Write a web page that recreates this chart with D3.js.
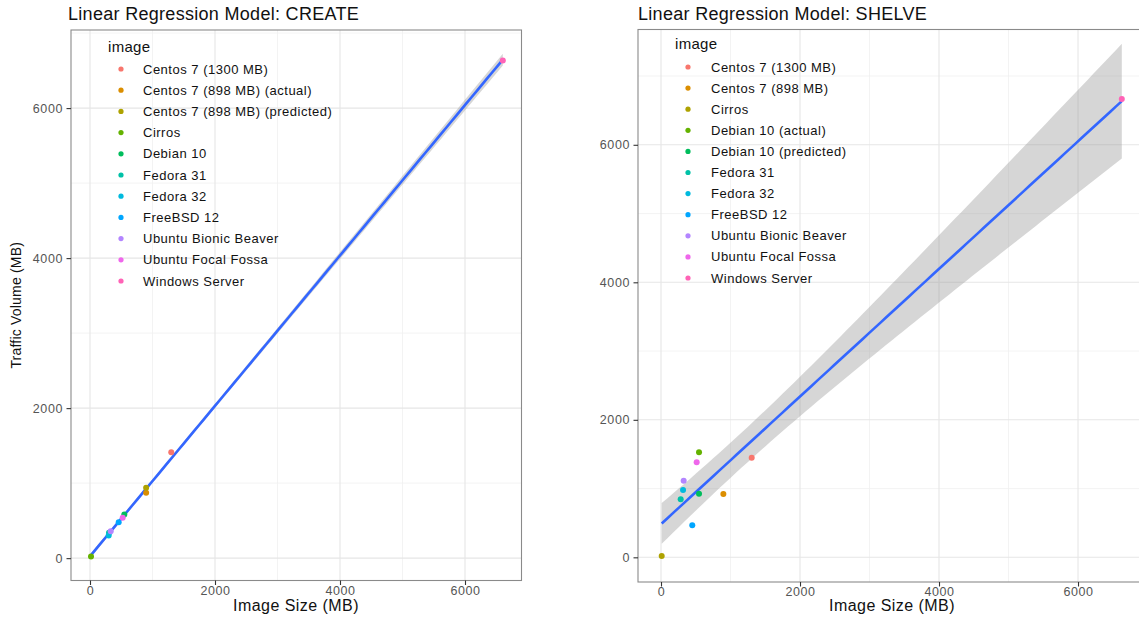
<!DOCTYPE html>
<html>
<head>
<meta charset="utf-8">
<script src="https://cdn.jsdelivr.net/npm/d3@7"></script>
<style>
  html, body { margin: 0; padding: 0; background: #fff; }
  svg { display: block; font-family: "Liberation Sans", Arial, sans-serif; }
</style>
</head>
<body>
<svg id="chart" width="1139" height="618"></svg>
<script>
// ---- data -------------------------------------------------------------
const createImages = [
  "Centos 7 (1300 MB)", "Centos 7 (898 MB) (actual)", "Centos 7 (898 MB) (predicted)",
  "Cirros", "Debian 10", "Fedora 31", "Fedora 32", "FreeBSD 12",
  "Ubuntu Bionic Beaver", "Ubuntu Focal Fossa", "Windows Server"
];
const createSize    = [1300, 898, 898, 16, 549, 304, 299, 459, 331, 523, 6605];
const createTraffic = [1413, 872, 939, 23, 583, 339, 303, 480, 360, 539, 6636];

const shelveImages = [
  "Centos 7 (1300 MB)", "Centos 7 (898 MB)", "Cirros", "Debian 10 (actual)",
  "Debian 10 (predicted)", "Fedora 31", "Fedora 32", "FreeBSD 12",
  "Ubuntu Bionic Beaver", "Ubuntu Focal Fossa", "Windows Server"
];
const shelveSize    = [1305, 897, 10, 547, 547, 283, 317, 450, 326, 513, 6630];
const shelveTraffic = [1449, 921, 19, 1527, 925, 843, 979, 465, 1114, 1381, 6666];

const majorTicks = [0, 2000, 4000, 6000];
const minorTicks = [1000, 3000, 5000, 7000];

// ggplot2 default hue palette for 11 levels
const hueColors = ["#F8766D", "#DB8E00", "#AEA200", "#64B200", "#00BD5C", "#00C1A7",
                   "#00BADE", "#00A6FF", "#B385FF", "#EF67EB", "#FF63B6"];

// Student t quantile (0.975, df = 9) for the 95% confidence band
const T975_DF9 = 2.262157;

// ---- layout -----------------------------------------------------------
const panels = [
  {
    title: "Linear Regression Model: CREATE", titleX: 68,
    names: createImages, xs: createSize, ys: createTraffic,
    frame: { left: 71, top: 30, right: 521.5, bottom: 580.5 },
    xDomain: [-304, 6904], yDomain: [-298, 7041],
    yTitle: "Traffic Volume (MB)", xTitleX: 296,
    legend: { x: 108, y: 52, dotX: 121, textX: 143, firstY: 69, step: 21.2 }
  },
  {
    title: "Linear Regression Model: SHELVE", titleX: 638,
    names: shelveImages, xs: shelveSize, ys: shelveTraffic,
    frame: { left: 638, top: 29.5, right: 1143, bottom: 582 },
    xDomain: [-331, 6935], yDomain: [-359, 7677],
    yTitle: null, xTitleX: 892,
    legend: { x: 675, y: 49, dotX: 688, textX: 711, firstY: 67, step: 21.1 }
  }
];

const svg = d3.select("#chart");

function fitLine(xs, ys) {
  const n = xs.length;
  const mx = d3.mean(xs), my = d3.mean(ys);
  let sxx = 0, sxy = 0;
  xs.forEach((x, i) => { sxx += (x - mx) ** 2; sxy += (x - mx) * (ys[i] - my); });
  const slope = sxy / sxx;
  const intercept = my - slope * mx;
  let sse = 0;
  xs.forEach((x, i) => { sse += (ys[i] - intercept - slope * x) ** 2; });
  const s = Math.sqrt(sse / (n - 2));
  return { slope, intercept, at: x => intercept + slope * x,
           half: x => T975_DF9 * s * Math.sqrt(1 / n + (x - mx) ** 2 / sxx) };
}

panels.forEach(p => {
  const f = p.frame;
  const x = d3.scaleLinear().domain(p.xDomain).range([f.left, f.right]);
  const y = d3.scaleLinear().domain(p.yDomain).range([f.bottom, f.top]);
  const g = svg.append("g");

  const clipId = "clip" + f.left;
  svg.append("clipPath").attr("id", clipId)
    .append("rect").attr("x", f.left).attr("y", f.top)
    .attr("width", f.right - f.left).attr("height", f.bottom - f.top);

  const plot = g.append("g").attr("clip-path", `url(#${clipId})`);

  // grid
  plot.selectAll(".vminor").data(minorTicks).join("line")
    .attr("x1", d => x(d)).attr("x2", d => x(d)).attr("y1", f.top).attr("y2", f.bottom)
    .attr("stroke", "#F0F0F0").attr("stroke-width", 0.8);
  plot.selectAll(".hminor").data(minorTicks).join("line")
    .attr("y1", d => y(d)).attr("y2", d => y(d)).attr("x1", f.left).attr("x2", f.right)
    .attr("stroke", "#F0F0F0").attr("stroke-width", 0.8);
  plot.selectAll(".vmajor").data(majorTicks).join("line")
    .attr("x1", d => x(d)).attr("x2", d => x(d)).attr("y1", f.top).attr("y2", f.bottom)
    .attr("stroke", "#E6E6E6").attr("stroke-width", 1.1);
  plot.selectAll(".hmajor").data(majorTicks).join("line")
    .attr("y1", d => y(d)).attr("y2", d => y(d)).attr("x1", f.left).attr("x2", f.right)
    .attr("stroke", "#E6E6E6").attr("stroke-width", 1.1);

  // regression line with 95% band
  const fit = fitLine(p.xs, p.ys);
  const [xmin, xmax] = d3.extent(p.xs);
  const grid = d3.range(0, 81).map(i => xmin + (xmax - xmin) * i / 80);
  plot.append("path")
    .attr("d", d3.area().x(d => x(d)).y0(d => y(fit.at(d) - fit.half(d))).y1(d => y(fit.at(d) + fit.half(d)))(grid))
    .attr("fill", "#999999").attr("fill-opacity", 0.4);
  plot.append("path")
    .attr("d", d3.line().x(d => x(d)).y(d => y(fit.at(d)))(grid))
    .attr("fill", "none").attr("stroke", "#3366FF").attr("stroke-width", 2.6);

  // points
  plot.selectAll(".pt").data(p.names).join("circle")
    .attr("cx", (d, i) => x(p.xs[i])).attr("cy", (d, i) => y(p.ys[i]))
    .attr("r", 3).attr("fill", (d, i) => hueColors[i]);

  // border
  g.append("rect").attr("x", f.left).attr("y", f.top)
    .attr("width", f.right - f.left).attr("height", f.bottom - f.top)
    .attr("fill", "none").attr("stroke", "#8A8A8A").attr("stroke-width", 1.1);

  // axes
  const xAxis = g.append("g").attr("transform", `translate(0,${f.bottom})`)
    .call(d3.axisBottom(x).tickValues(majorTicks).tickSize(4.5).tickFormat(d3.format("d")));
  const yAxis = g.append("g").attr("transform", `translate(${f.left},0)`)
    .call(d3.axisLeft(y).tickValues(majorTicks).tickSize(4.5).tickFormat(d3.format("d")));
  [xAxis, yAxis].forEach(a => {
    a.select(".domain").remove();
    a.selectAll(".tick line").attr("stroke", "#333333").attr("stroke-width", 1.1);
    a.selectAll(".tick text").attr("fill", "#555555")
      .attr("font-size", 12.5).attr("letter-spacing", 0.6)
      .attr("font-family", "Liberation Sans, Arial, sans-serif");
  });
  xAxis.selectAll(".tick text").attr("y", 5).attr("dy", "0.72em");
  yAxis.selectAll(".tick text").attr("x", -8);

  // titles
  g.append("text").attr("x", p.titleX).attr("y", 20)
    .attr("font-size", 18).attr("letter-spacing", 0.3).attr("fill", "#111").text(p.title);
  g.append("text").attr("x", p.xTitleX)
    .attr("y", 611).attr("text-anchor", "middle")
    .attr("font-size", 16).attr("letter-spacing", 0.45).attr("fill", "#111").text("Image Size (MB)");
  if (p.yTitle) {
    g.append("text")
      .attr("transform", `translate(21,${(f.top + f.bottom) / 2}) rotate(-90)`)
      .attr("text-anchor", "middle").attr("font-size", 14).attr("letter-spacing", 0.2)
      .attr("fill", "#111").text(p.yTitle);
  }

  // legend
  const L = p.legend;
  g.append("text").attr("x", L.x).attr("y", L.y)
    .attr("font-size", 15).attr("letter-spacing", 0.3).attr("fill", "#111").text("image");
  const items = g.selectAll(".leg").data(p.names).join("g")
    .attr("transform", (d, i) => `translate(0,${L.firstY + i * L.step})`);
  items.append("circle").attr("cx", L.dotX).attr("cy", 0).attr("r", 2.6)
    .attr("fill", (d, i) => hueColors[i]);
  items.append("text").attr("x", L.textX).attr("y", 0).attr("dy", "0.35em")
    .attr("font-size", 13).attr("letter-spacing", 0.5).attr("fill", "#111").text(d => d);
});
</script>
</body>
</html>
